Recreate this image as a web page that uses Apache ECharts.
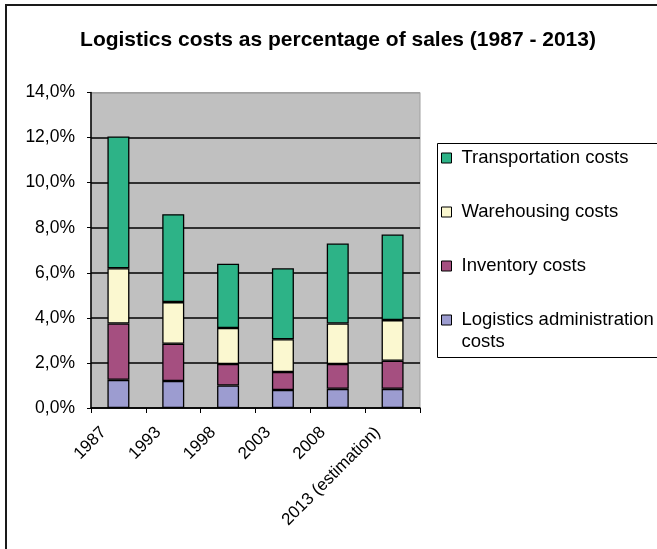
<!DOCTYPE html>
<html>
<head>
<meta charset="utf-8">
<script src="https://cdn.jsdelivr.net/npm/echarts@6/dist/echarts.min.js"></script>
<style>
  html, body { margin: 0; padding: 0; background: #fff; }
  #chart { width: 657px; height: 549px; }
</style>
</head>
<body>
<div id="chart"></div>
<script>
// Survey years (last one is a forecast)
const categories = ['1987', '1993', '1998', '2003', '2008', '2013 (estimation)'];

// Cost components, % of sales, stacked bottom to top
const adminCosts = [1.25, 1.2, 1.0, 0.8, 0.85, 0.85];
const inventoryCosts = [2.5, 1.65, 0.95, 0.8, 1.1, 1.25];
const warehousingCosts = [2.45, 1.85, 1.6, 1.45, 1.8, 1.8];
const transportCosts = [5.85, 3.9, 2.85, 3.15, 3.55, 3.8];

const yTicks = { min: 0, max: 14, interval: 2 };

const names = {
  admin: 'Logistics administration costs',
  inventory: 'Inventory costs',
  warehousing: 'Warehousing costs',
  transport: 'Transportation costs'
};

const colors = {
  admin: '#9c9cd0',
  inventory: '#a54f80',
  warehousing: '#fbf8d0',
  transport: '#2db387'
};

const FONT = '"Liberation Sans", Arial, sans-serif';

const chart = echarts.init(document.getElementById('chart'), null, { renderer: 'canvas' });

function barSeries(key, values) {
  return {
    name: names[key],
    type: 'bar',
    stack: 'costs',
    data: values,
    barWidth: 22,
    itemStyle: { color: colors[key], borderColor: '#000', borderWidth: 1.3 },
    emphasis: { disabled: true }
  };
}

const legendText = { fontFamily: FONT, fontSize: 18.5, color: '#000', lineHeight: 22, padding: [0, 0, 0, 5] };

chart.setOption({
  animation: false,
  backgroundColor: '#fff',
  textStyle: { fontFamily: FONT },
  title: {
    text: 'Logistics costs as percentage of sales (1987 - 2013)',
    left: 333,
    textAlign: 'center',
    top: 25,
    textStyle: { fontFamily: FONT, fontSize: 21, fontWeight: 'bold', color: '#000' }
  },
  graphic: [
    {
      type: 'rect',
      shape: { x: 6, y: 5, width: 760, height: 640 },
      style: { fill: null, stroke: '#1a1a1a', lineWidth: 2 },
      silent: true
    },
    {
      type: 'rect',
      shape: { x: 437.5, y: 143.5, width: 300, height: 214 },
      style: { fill: null, stroke: '#000', lineWidth: 1 },
      silent: true
    }
  ],
  legend: [
    {
      orient: 'vertical',
      left: 441,
      top: 147,
      padding: 0,
      itemGap: 32,
      itemWidth: 10,
      itemHeight: 10,
      icon: 'rect',
      selectedMode: false,
      itemStyle: { borderWidth: 1, borderColor: '#000' },
      textStyle: legendText,
      data: [names.transport, names.warehousing, names.inventory]
    },
    {
      orient: 'vertical',
      left: 441,
      top: 287,
      padding: 0,
      itemWidth: 10,
      itemHeight: 10,
      icon: 'rect',
      selectedMode: false,
      itemStyle: { borderWidth: 1, borderColor: '#000' },
      textStyle: legendText,
      formatter: () => '\nLogistics administration\ncosts',
      data: [names.admin]
    }
  ],
  grid: {
    left: 91,
    right: 237,
    top: 92.5,
    bottom: 141,
    show: true,
    backgroundColor: '#c0c0c0',
    borderColor: '#a0a0a0',
    borderWidth: 1
  },
  xAxis: {
    type: 'category',
    data: categories,
    boundaryGap: true,
    axisLine: { show: true, lineStyle: { color: '#000', width: 1.5 } },
    axisTick: { show: true, alignWithLabel: false, length: 5, lineStyle: { color: '#000', width: 1 } },
    axisLabel: {
      interval: 0,
      rotate: 45,
      margin: 7,
      padding: [0, 21, 0, 0],
      fontFamily: FONT,
      fontSize: 17,
      color: '#000'
    },
    splitLine: { show: false }
  },
  yAxis: {
    type: 'value',
    min: yTicks.min,
    max: yTicks.max,
    interval: yTicks.interval,
    axisLine: { show: true, lineStyle: { color: '#000', width: 1.5 } },
    axisTick: { show: true, length: 4, lineStyle: { color: '#000', width: 1 } },
    axisLabel: {
      margin: 16,
      fontFamily: FONT,
      fontSize: 17.5,
      color: '#000',
      formatter: v => v.toFixed(1).replace('.', ',') + '%'
    },
    splitLine: {
      show: true,
      lineStyle: {
        color: ['#000', '#000', '#000', '#000', '#000', '#000', '#000', '#a0a0a0'],
        width: 1.5
      }
    }
  },
  series: [
    barSeries('admin', adminCosts),
    barSeries('inventory', inventoryCosts),
    barSeries('warehousing', warehousingCosts),
    barSeries('transport', transportCosts)
  ]
});
</script>
</body>
</html>
